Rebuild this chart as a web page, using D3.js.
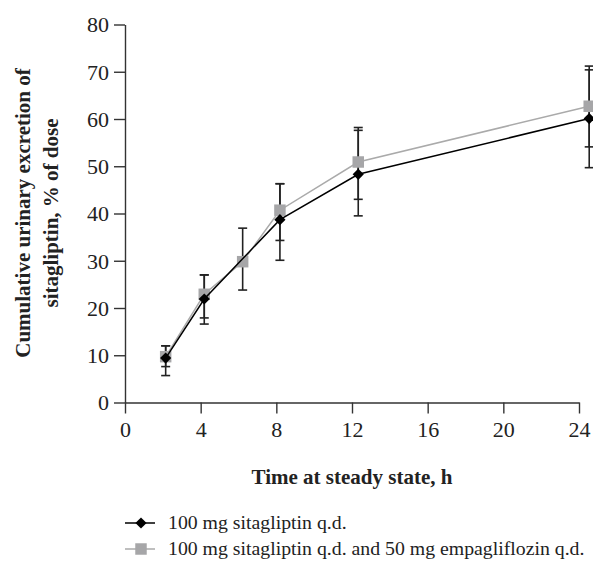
<!DOCTYPE html>
<html>
<head>
<meta charset="utf-8">
<script src="https://cdn.jsdelivr.net/npm/d3@7"></script>
<style>
  body { margin: 0; background: #fff; }
  text { font-family: "Liberation Serif", "Times New Roman", serif; fill: #222; }
</style>
</head>
<body>
<div class="chartArea"></div>
<script>
// hours after dose (collection midpoints as plotted)
const timeSita = [2.15, 4.19, 8.19, 12.33, 24.54];
const sitaMean = [9.4, 21.9, 38.7, 48.3, 60.1];
const sitaLow = [5.7, 16.6, 30.1, 39.5, 49.7];
const sitaHigh = [12.0, 27.0, 46.3, 57.6, 70.4];

const timeCombo = [2.15, 4.19, 6.22, 8.19, 12.33, 24.54];
const comboMean = [9.7, 22.9, 29.8, 40.7, 50.9, 62.7];
const comboLow = [7.6, 17.9, 23.8, 34.3, 43.0, 54.1];
const comboHigh = [12.0, 27.0, 36.9, 46.3, 58.2, 71.2];

const xTicks = [0, 4, 8, 12, 16, 20, 24];
const yTicks = [0, 10, 20, 30, 40, 50, 60, 70, 80];
const legendLabels = ["100 mg sitagliptin q.d.", "100 mg sitagliptin q.d. and 50 mg empagliflozin q.d."];

const width = 593;
const height = 571;

const sita = timeSita.map((t, i) => ({t: t, v: sitaMean[i], lo: sitaLow[i], hi: sitaHigh[i]}));
const combo = timeCombo.map((t, i) => ({t: t, v: comboMean[i], lo: comboLow[i], hi: comboHigh[i]}));

const xScale = d3.scaleLinear().domain([0, 24]).range([125, 579]);
const yScale = d3.scaleLinear().domain([0, 80]).range([402.5, 24.5]);

const svg = d3.select(".chartArea")
    .append("svg")
    .attr("width", width)
    .attr("height", height);

const xAxis = d3.axisBottom(xScale).tickValues(xTicks).tickSize(11).tickSizeOuter(0).tickPadding(8);
const gx = svg.append("g")
    .attr("transform", "translate(0," + yScale(0) + ")")
    .call(xAxis);

const yAxis = d3.axisLeft(yScale).tickValues(yTicks).tickSize(11).tickSizeOuter(0).tickPadding(5);
const gy = svg.append("g")
    .attr("transform", "translate(" + xScale(0) + ",0)")
    .call(yAxis);

[gx, gy].forEach(g => {
    g.selectAll("path, line").attr("stroke", "#333").attr("stroke-width", 1.4);
    g.selectAll("text").style("font-size", "22px").attr("fill", "#222");
});
gy.selectAll("text").attr("dy", "0.34em");

// error bars
function errorBars(data, cls) {
    const g = svg.append("g").attr("class", cls);
    g.selectAll("line.stem")
        .data(data)
        .enter()
        .append("line")
        .attr("x1", d => xScale(d.t))
        .attr("x2", d => xScale(d.t))
        .attr("y1", d => yScale(d.lo))
        .attr("y2", d => yScale(d.hi))
        .attr("stroke", "#222")
        .attr("stroke-width", 1.6);
    ["lo", "hi"].forEach(k => {
        g.selectAll("line.cap" + k)
            .data(data)
            .enter()
            .append("line")
            .attr("x1", d => xScale(d.t) - 4.5)
            .attr("x2", d => xScale(d.t) + 4.5)
            .attr("y1", d => yScale(d[k]))
            .attr("y2", d => yScale(d[k]))
            .attr("stroke", "#222")
            .attr("stroke-width", 1.6);
    });
}
errorBars(combo, "comboBars");
errorBars(sita, "sitaBars");

const line = d3.line().x(d => xScale(d.t)).y(d => yScale(d.v));

svg.append("path")
    .datum(combo)
    .attr("d", line)
    .attr("fill", "none")
    .attr("stroke", "#aaa")
    .attr("stroke-width", 1.5);

svg.selectAll("path.sq")
    .data(combo)
    .enter()
    .append("path")
    .attr("class", "sq")
    .attr("d", d3.symbol(d3.symbolSquare, 132))
    .attr("transform", d => "translate(" + xScale(d.t) + "," + yScale(d.v) + ")")
    .attr("fill", "#a6a6a8");

svg.append("path")
    .datum(sita)
    .attr("d", line)
    .attr("fill", "none")
    .attr("stroke", "#000")
    .attr("stroke-width", 1.5);

svg.selectAll("path.dm")
    .data(sita)
    .enter()
    .append("path")
    .attr("class", "dm")
    .attr("d", d3.symbol(d3.symbolDiamond2, 80))
    .attr("transform", d => "translate(" + xScale(d.t) + "," + yScale(d.v) + ")")
    .attr("fill", "#000");

// axis titles
svg.append("text")
    .attr("x", 352)
    .attr("y", 484)
    .attr("text-anchor", "middle")
    .style("font-size", "21px")
    .style("font-weight", "bold")
    .text("Time at steady state, h");

const yTitle = ["Cumulative urinary excretion of", "sitagliptin, % of dose"];
yTitle.forEach((s, i) => {
    svg.append("text")
        .attr("transform", "translate(" + (30 + i * 28) + ",213) rotate(-90)")
        .attr("text-anchor", "middle")
        .style("font-size", "21px")
        .style("font-weight", "bold")
        .text(s);
});

// legend
const legendY = [523, 549];
const lg = svg.append("g");
legendLabels.forEach((s, i) => {
    const y = legendY[i];
    lg.append("line")
        .attr("x1", 125).attr("x2", 155)
        .attr("y1", y).attr("y2", y)
        .attr("stroke", i === 0 ? "#000" : "#aaa")
        .attr("stroke-width", 1.5);
    lg.append("path")
        .attr("d", i === 0 ? d3.symbol(d3.symbolDiamond2, 80)() : d3.symbol(d3.symbolSquare, 132)())
        .attr("transform", "translate(141," + y + ")")
        .attr("fill", i === 0 ? "#000" : "#a6a6a8");
    lg.append("text")
        .attr("x", 168)
        .attr("y", y)
        .attr("dy", "0.32em")
        .style("font-size", "19.8px")
        .text(s);
});
</script>
</body>
</html>
